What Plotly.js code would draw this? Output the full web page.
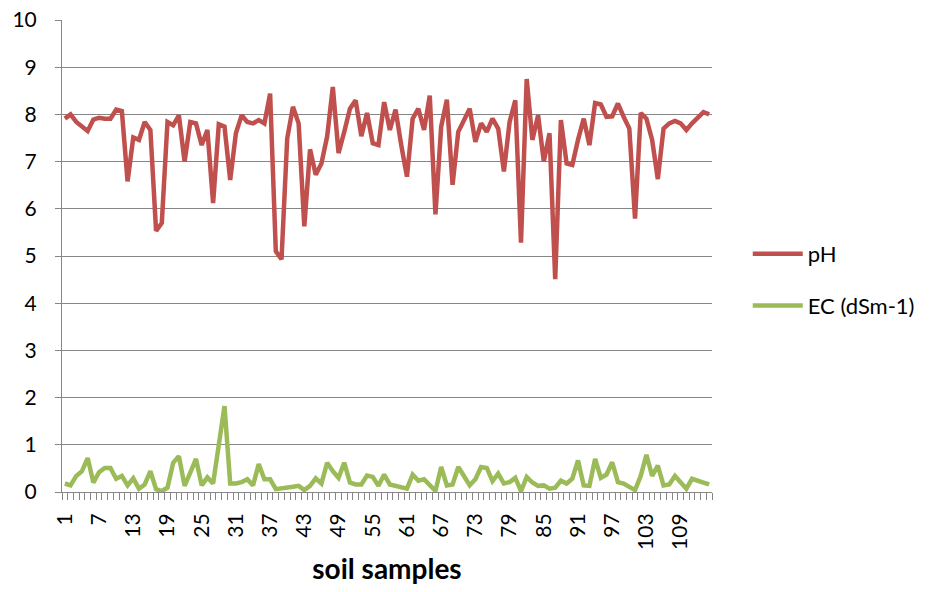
<!DOCTYPE html>
<html>
<head>
<meta charset="utf-8">
<script src="https://cdn.plot.ly/plotly-3.0.1.min.js"></script>
<style>html,body{margin:0;padding:0;background:#fff;}#chart{width:932px;height:592px;}</style>
</head>
<body>
<div id="chart"></div>
<script>
const samples = Array.from({length: 114}, (_, i) => i + 1);
const phValues = [
  7.91, 8.00, 7.84, 7.74, 7.65, 7.89, 7.93, 7.91, 7.91, 8.10,
  8.07, 6.58, 7.51, 7.46, 7.84, 7.67, 5.53, 5.70, 7.84, 7.77,
  7.98, 7.00, 7.84, 7.81, 7.35, 7.67, 6.12, 7.79, 7.74, 6.61,
  7.60, 7.98, 7.84, 7.81, 7.88, 7.81, 8.44, 5.10, 4.93, 7.49,
  8.16, 7.81, 5.63, 7.26, 6.72, 6.96, 7.53, 8.58, 7.18, 7.63,
  8.12, 8.30, 7.54, 8.03, 7.39, 7.35, 8.26, 7.67, 8.10, 7.35,
  6.68, 7.91, 8.12, 7.67, 8.40, 5.88, 7.74, 8.31, 6.51, 7.63,
  7.88, 8.12, 7.42, 7.81, 7.63, 7.91, 7.70, 6.79, 7.84, 8.30,
  5.28, 8.75, 7.46, 7.98, 7.00, 7.60, 4.51, 7.88, 6.96, 6.93,
  7.46, 7.91, 7.35, 8.24, 8.21, 7.95, 7.96, 8.23, 7.95, 7.70,
  5.79, 8.03, 7.91, 7.46, 6.63, 7.70, 7.81, 7.86, 7.81, 7.67,
  7.81, 7.93, 8.05, 8.00
];
const ecValues = [
  0.18, 0.14, 0.34, 0.44, 0.72, 0.20, 0.42, 0.51, 0.51, 0.28,
  0.34, 0.14, 0.29, 0.07, 0.16, 0.44, 0.06, 0.02, 0.09, 0.62,
  0.76, 0.13, 0.41, 0.70, 0.14, 0.31, 0.18, 0.97, 1.82, 0.18,
  0.18, 0.21, 0.27, 0.14, 0.59, 0.27, 0.27, 0.06, 0.07, 0.09,
  0.11, 0.13, 0.04, 0.13, 0.29, 0.18, 0.62, 0.44, 0.30, 0.62,
  0.20, 0.16, 0.16, 0.35, 0.32, 0.13, 0.37, 0.16, 0.13, 0.09,
  0.07, 0.37, 0.24, 0.27, 0.14, 0.02, 0.53, 0.14, 0.16, 0.53,
  0.34, 0.14, 0.27, 0.53, 0.51, 0.23, 0.39, 0.18, 0.21, 0.30,
  0.02, 0.32, 0.20, 0.13, 0.14, 0.07, 0.09, 0.24, 0.18, 0.28,
  0.67, 0.14, 0.13, 0.70, 0.30, 0.37, 0.63, 0.21, 0.18, 0.11,
  0.04, 0.34, 0.79, 0.34, 0.56, 0.14, 0.16, 0.34, 0.20, 0.07,
  0.28, 0.25, 0.20, 0.16
];
const xTickVals = [1, 7, 13, 19, 25, 31, 37, 43, 49, 55, 61, 67, 73, 79, 85, 91, 97, 103, 109];
const xTickText = xTickVals.map(String);
const seriesNames = ['pH', 'EC (dSm-1)'];

const font = 'Lato, "Open Sans", "Liberation Sans", sans-serif';
const traces = [
  {x: samples, y: phValues, name: seriesNames[0], type: 'scatter', mode: 'lines',
   line: {color: '#C0504D', width: 4.5}, legendgroup: 'a'},
  {x: samples, y: ecValues, name: seriesNames[1], type: 'scatter', mode: 'lines',
   line: {color: '#9BBB59', width: 4.5}, legendgroup: 'b'}
];
const layout = {
  width: 932, height: 592,
  margin: {l: 62, r: 220, t: 20, b: 100},
  paper_bgcolor: '#fff', plot_bgcolor: '#fff',
  font: {family: font, size: 21, color: '#000'},
  showlegend: true,
  legend: {x: 1.055, y: 0.449, xanchor: 'left', yanchor: 'middle',
           font: {family: font, size: 22, color: '#000'}, itemwidth: 50,
           tracegroupgap: 20, traceorder: 'grouped', bgcolor: 'rgba(0,0,0,0)'},
  xaxis: {
    range: [0.5, 114.5], tickmode: 'array', tickvals: xTickVals, ticktext: xTickText,
    tickangle: -90, ticks: '', showgrid: false, zeroline: false,
    showline: true, linecolor: '#868686', linewidth: 1,
    tickfont: {family: font, size: 21, color: '#000'}, ticklabelstandoff: 12,
    minor: {tick0: 0.5, dtick: 1, ticks: 'outside', ticklen: 7, tickcolor: '#868686', showgrid: false},
    title: {text: '<b>soil samples</b>', font: {family: font, size: 28, color: '#000'}, standoff: 10}
  },
  yaxis: {
    range: [0, 10], dtick: 1, tick0: 0, ticks: 'outside', ticklen: 6, tickcolor: '#868686',
    showgrid: true, gridcolor: '#868686', gridwidth: 1, zeroline: false,
    showline: true, linecolor: '#868686', linewidth: 1,
    tickfont: {family: font, size: 21, color: '#000'}, ticklabelstandoff: 14
  }
};
Plotly.newPlot('chart', traces, layout, {displayModeBar: false, staticPlot: true});
</script>
</body>
</html>
